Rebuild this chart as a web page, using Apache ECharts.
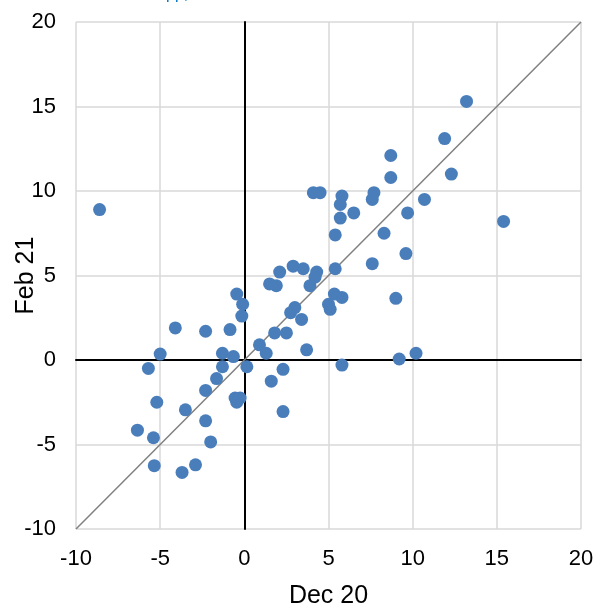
<!DOCTYPE html>
<html>
<head>
<meta charset="utf-8">
<script src="https://cdn.jsdelivr.net/npm/echarts@6/dist/echarts.min.js"></script>
<style>html,body{margin:0;padding:0;background:#fff;}#c{width:604px;height:608px;}</style>
</head>
<body>
<div id="c"></div>
<script>
const decX = [-8.6,13.2,11.9,12.3,15.4,8.7,8.7,4.1,4.5,5.8,5.7,7.7,7.6,10.7,9.7,6.5,5.7,8.3,5.4,9.6,7.6,3.5,5.4,4.3,4.2,3.9,5.35,5.8,5.0,5.1,9.0,3.4,3.7,9.2,10.2,5.8,-0.45,-0.1,-0.15,1.5,1.9,3.0,2.75,-4.1,-2.3,-0.85,1.8,2.5,-5.0,-1.3,-0.65,0.9,1.3,-5.7,0.15,-1.3,2.3,-1.65,1.6,-2.3,-5.2,-3.5,-0.55,-0.25,-0.45,2.3,-2.3,-6.35,-5.4,-2.0,-5.35,-3.7,-2.9,2.1,2.9];
const febY = [8.9,15.3,13.1,11.0,8.2,12.1,10.8,9.9,9.9,9.7,9.2,9.9,9.5,9.5,8.7,8.7,8.4,7.5,7.4,6.3,5.7,5.4,5.4,5.2,4.9,4.4,3.9,3.7,3.3,3.0,3.65,2.4,0.6,0.06,0.4,-0.3,3.9,3.3,2.6,4.5,4.4,3.1,2.8,1.9,1.7,1.8,1.6,1.6,0.35,0.4,0.2,0.9,0.4,-0.5,-0.4,-0.4,-0.55,-1.1,-1.25,-1.8,-2.5,-2.95,-2.25,-2.25,-2.5,-3.05,-3.6,-4.15,-4.6,-4.85,-6.25,-6.65,-6.2,5.2,5.55];
const diagX = [-10, 20];
const diagY = [-10, 20];
const xAxisName = 'Dec 20';
const yAxisName = 'Feb 21';

const FONT = "'Liberation Sans', Arial, sans-serif";
const chart = echarts.init(document.getElementById('c'));
chart.setOption({
  animation: false,
  backgroundColor: '#fff',
  graphic: [{
    type: 'text', left: 166, top: -13,
    style: { text: 'pp,', fill: '#0070c0', font: "16px 'Liberation Sans', Arial" }
  }],
  grid: { left: 76, right: 23, top: 22, bottom: 79, containLabel: false, outerBoundsMode: 'none' },
  xAxis: {
    type: 'value', min: -10, max: 20, interval: 5,
    name: xAxisName, nameLocation: 'middle', nameGap: 67, nameMoveOverlap: false,
    nameTextStyle: { fontFamily: FONT, fontSize: 25, color: '#000', verticalAlign: 'middle' },
    axisLine: { show: true, onZero: true, lineStyle: { color: '#000', width: 2 } },
    axisTick: { show: false },
    axisLabel: { fontFamily: FONT, fontSize: 22, color: '#000', margin: 19 },
    splitLine: { show: true, lineStyle: { color: '#d9d9d9', width: 1.5 } }
  },
  yAxis: {
    type: 'value', min: -10, max: 20, interval: 5,
    name: yAxisName, nameLocation: 'middle', nameGap: 50, nameRotate: 90, nameMoveOverlap: false,
    nameTextStyle: { fontFamily: FONT, fontSize: 25, color: '#000', verticalAlign: 'middle' },
    axisLine: { show: true, onZero: true, lineStyle: { color: '#000', width: 2 } },
    axisTick: { show: false },
    axisLabel: { fontFamily: FONT, fontSize: 22, color: '#000', margin: 20 },
    splitLine: { show: true, lineStyle: { color: '#d9d9d9', width: 1.5 } }
  },
  series: [
    {
      type: 'line', data: diagX.map((x, i) => [x, diagY[i]]),
      showSymbol: false, symbol: 'none', silent: true,
      lineStyle: { color: '#808080', width: 1.5 }, z: 2
    },
    {
      type: 'scatter', data: decX.map((x, i) => [x, febY[i]]),
      symbolSize: 13, itemStyle: { color: '#4a7ebb', opacity: 1 }, z: 3
    }
  ]
});
</script>
</body>
</html>
